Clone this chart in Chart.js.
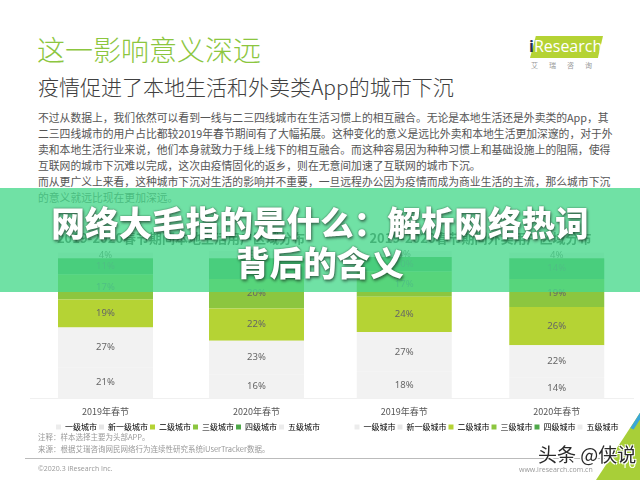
<!DOCTYPE html>
<html>
<head>
<meta charset="utf-8">
<script src="https://cdn.jsdelivr.net/npm/chart.js@4.4.0/dist/chart.umd.min.js"></script>
<style>
html, body { margin: 0; padding: 0; background: #fff; width: 640px; height: 480px; overflow: hidden; }
body { font-family: 'Noto Sans CJK SC', 'Noto Sans', sans-serif; }
#page { position: relative; width: 640px; height: 480px; }
.abs { position: absolute; white-space: nowrap; }
.para { left: 38px; font-size: 10.8px; line-height: 16px; color: #555; }
.note { left: 38px; font-size: 7.5px; line-height: 10px; color: #999; }
canvas { position: absolute; }
#banner { left: 0; top: 188px; width: 640px; height: 104px; background: rgba(72, 216, 140, 0.78); z-index: 5; }
.big { left: 0; width: 640px; text-align: center; color: #fff; font-weight: 900; font-size: 33.6px; line-height: 40px; z-index: 6;
       text-shadow: 0 0 2px rgba(30, 60, 40, .7), 1px 2px 3px rgba(0, 0, 0, .45); }
</style>
</head>
<body>
<div id="page">
  <div class="abs" style="left:37px;top:31px;font-size:28px;line-height:36px;color:#8cc63f;font-weight:300">这一影响意义深远</div>
  <div class="abs" style="left:38px;top:73px;font-size:21px;line-height:26px;color:#404040;font-weight:300">疫情促进了本地生活和外卖类App的城市下沉</div>

  <div class="abs para" style="top:109px">不过从数据上，我们依然可以看到一线与二三四线城市在生活习惯上的相互融合。无论是本地生活还是外卖类的App，其</div>
  <div class="abs para" style="top:125px">二三四线城市的用户占比都较2019年春节期间有了大幅拓展。这种变化的意义是远比外卖和本地生活更加深邃的，对于外</div>
  <div class="abs para" style="top:141px">卖和本地生活行业来说，他们本身就致力于线上线下的相互融合。而这种容易因为种种习惯上和基础设施上的阻隔，使得</div>
  <div class="abs para" style="top:157px">互联网的城市下沉难以完成，这次由疫情固化的返乡，则在无意间加速了互联网的城市下沉。</div>
  <div class="abs para" style="top:173px">而从更广义上来看，这种城市下沉对生活的影响并不重要，一旦远程办公因为疫情而成为商业生活的主流，那么城市下沉</div>
  <div class="abs para" style="top:189px">的意义就远比现在更加深远。</div>

  <!-- logo -->
  <div class="abs" style="left:530px;top:36px;width:73px;height:22px;background:#b5d334;clip-path:polygon(8% 0,100% 0,93% 100%,0 100%)"></div>
  <div class="abs" style="left:529px;top:34px;font-family:'Open Sans';font-size:16px;line-height:25px;color:#fff"><span style="color:#1f2f5a;font-weight:bold">i</span>Research</div>
  <div class="abs" style="left:531px;top:60px;font-size:7px;line-height:10px;color:#999;letter-spacing:11px">艾瑞咨询</div>

  <canvas id="localChart" width="316" height="215" style="left:30px;top:226px"></canvas>
  <canvas id="takeoutChart" width="317" height="215" style="left:328px;top:226px"></canvas>

  <div id="banner" class="abs"></div>
  <div class="abs big" style="top:202px">网络大毛指的是什么：解析网络热词</div>
  <div class="abs big" style="top:242px">背后的含义</div>

  <div class="abs note" style="top:432px">注释：样本选择主要为头部APP。</div>
  <div class="abs note" style="top:444px">来源：根据艾瑞咨询网民网络行为连续性研究系统iUserTracker数据。</div>
  <div class="abs" style="left:25px;top:458px;width:580px;height:1px;background:#bbb"></div>
  <div class="abs" style="left:38px;top:464px;font-family:'Open Sans';font-size:7px;line-height:10px;color:#999">©2020.3 iResearch Inc.</div>
  <div class="abs" style="left:519px;top:465px;font-family:'Open Sans';font-size:7px;line-height:10px;color:#999">www.iresearch.com.cn</div>

  <div class="abs" style="left:560px;top:396px;width:80px;height:84px;background:#a8cf38;clip-path:polygon(45% 100%,100% 20%,100% 100%)"></div>
  <div class="abs" style="left:560px;top:396px;width:80px;height:84px;background:#3aa7d8;clip-path:polygon(88% 38%,100% 20%,100% 28%,92% 40%)"></div>
  <div class="abs" style="left:621px;top:455px;font-family:'Open Sans';font-size:13px;line-height:16px;color:#fff">16</div>
  <div class="abs" style="left:538px;top:442px;font-size:19px;line-height:24px;color:#2a2a2a;
       text-shadow:-1px -1px 0 #fff,1px -1px 0 #fff,-1px 1px 0 #fff,1px 1px 0 #fff">头条 @侠说</div>
</div>

<script>
const categories = ['2019年春节', '2020年春节'];
const cityTiers = ['一级城市', '新一级城市', '二级城市', '三级城市', '四级城市', '五级城市'];
const tierColors = ['#f2f2f2', '#f2f2f2', '#b5d334', '#8cc63f', '#4fa84a', '#f2f2f2'];
const legendColors = ['#ececec', '#e6e6e6', '#b5d334', '#8cc63f', '#4fa84a', '#ececec'];

// shares per tier, bottom to top (%)
const local2019 = [21, 27, 19, 17, 11, 4];
const local2020 = [16, 23, 22, 20, 14, 5];
const takeout2019 = [18, 27, 24, 17, 10, 4];
const takeout2020 = [14, 22, 26, 19, 14, 4];

Chart.defaults.font.family = "'Noto Sans CJK SC', sans-serif";
Chart.defaults.animation = false;

const segmentLabels = {
  id: 'segmentLabels',
  afterDatasetsDraw(chart) {
    const ctx = chart.ctx;
    ctx.save();
    ctx.font = "9.5px 'Noto Sans', sans-serif";
    ctx.fillStyle = '#666';
    ctx.textAlign = 'center';
    ctx.textBaseline = 'middle';
    chart.data.datasets.forEach((ds, i) => {
      chart.getDatasetMeta(i).data.forEach((bar, j) => {
        ctx.fillText(ds.data[j] + '%', bar.x, (bar.y + bar.base) / 2);
      });
    });
    ctx.restore();
  }
};

function makeChart(id, title, a, b, barPct, rightPad) {
  const datasets = cityTiers.map((tier, i) => ({
    label: tier,
    data: [a[i], b[i]],
    backgroundColor: tierColors[i],
    borderWidth: 0,
    barPercentage: barPct,
    categoryPercentage: 1
  }));
  return new Chart(document.getElementById(id), {
    type: 'bar',
    data: { labels: categories, datasets: datasets },
    plugins: [segmentLabels],
    options: {
      responsive: false,
      devicePixelRatio: 1,
      layout: { padding: 0 },
      plugins: {
        tooltip: { enabled: false },
        title: {
          display: true,
          text: title,
          fullSize: false,
          color: '#333',
          font: { size: 13 },
          padding: { top: 4, bottom: 5.4 }
        },
        legend: {
          position: 'bottom',
          labels: {
            boxWidth: 5,
            boxHeight: 5,
            padding: 2,
            color: '#777',
            font: { size: 8 },
            generateLabels: (chart) => cityTiers.map((t, i) => ({
              text: t, fillStyle: legendColors[i], strokeStyle: legendColors[i], lineWidth: 0, datasetIndex: i
            }))
          }
        }
      },
      scales: {
        x: {
          stacked: true,
          grid: { display: false, drawTicks: false },
          border: { display: true, color: '#f0f0f0' },
          ticks: { color: '#555', font: { size: 9 }, padding: 8 },
          afterFit: (s) => { s.height = s.height - 4; }
        },
        y: {
          stacked: true,
          min: 0,
          max: 100,
          position: 'right',
          grid: { display: false },
          border: { display: false },
          ticks: { display: false },
          afterFit: (s) => { s.width = rightPad; }
        }
      }
    }
  });
}

makeChart('localChart', '2019-2020春节期间本地生活用户区域分布', local2019, local2020, 95 / 151, 14);
makeChart('takeoutChart', '2019-2020春节期间外卖用户区域分布', takeout2019, takeout2020, 95 / 152.5, 12);
</script>
</body>
</html>
